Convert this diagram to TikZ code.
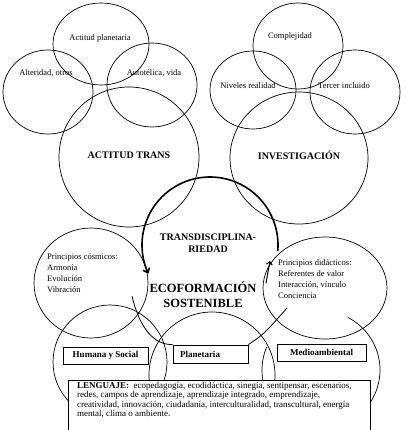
\documentclass[tikz,border=0pt]{standalone}
\usepackage{fontspec}
\setmainfont{Liberation Serif}
\usetikzlibrary{arrows.meta}
\begin{document}
\begin{tikzpicture}[x=1pt,y=-1pt,
  ring/.style={draw, line width=0.7pt},
  lbl/.style={font=\fontsize{8.5}{10}\selectfont, inner sep=0pt},
  big/.style={font=\bfseries\fontsize{10}{12}\selectfont, inner sep=0pt, align=center},
  eco/.style={font=\bfseries\fontsize{12.5}{15}\selectfont, inner sep=0pt, align=center},
  dim/.style={draw, line width=0.9pt, fill=white, font=\bfseries\fontsize{9}{10}\selectfont, inner sep=0pt},
  cyc/.style={line width=1.6pt},
  link/.style={line width=0.8pt},
]
\useasboundingbox (0,0) rectangle (405,430);
\fill[white] (0,0) rectangle (405,430);

% top-left cluster
\draw[ring] (101,44) ellipse [x radius=48, y radius=41];
\draw[ring] (48,92) ellipse [x radius=45, y radius=42];
\draw[ring] (152,85) ellipse [x radius=45, y radius=42];
\draw[ring] (129,157) circle [radius=70];
% top-right cluster
\draw[ring] (298,46) ellipse [x radius=45, y radius=43];
\draw[ring] (253,90) ellipse [x radius=43, y radius=39];
\draw[ring] (355,92) ellipse [x radius=45, y radius=42];
\draw[ring] (299,158) ellipse [x radius=69, y radius=66];
% middle side circles
\draw[ring] (91,283) ellipse [x radius=57, y radius=55];
\draw[ring] (325,288) ellipse [x radius=62, y radius=51];
% bottom circles
\draw[ring] (110,362) circle [radius=57];
\draw[ring] (212,375) circle [radius=63];
\draw[ring] plot[domain=297:563, samples=90, variable=\t] ({321+59*cos(\t)},{370+59*sin(\t)});

% cycle of the central circle
\draw[cyc, {Straight Barb[length=4pt,width=7pt]}-] plot[domain=155:365, samples=90, variable=\t] ({210+68*cos(\t)},{245+68*sin(\t)});
\coordinate (ra) at (266,283);
\coordinate (rb) at (270,261);
\draw[line width=1pt, -{Straight Barb[length=3pt,width=6pt]}] (ra) -- (rb);

% labels
\node[lbl] (apl) at (100,38) {Actitud planetaria};
\node[lbl] (alt) at (46,73) {Alteridad, otros};
\node[lbl] (aut) at (154,73) {Autotélica, vida};
\node[lbl] (com) at (290,36) {Complejidad};
\node[lbl] (niv) at (248,86) {Niveles realidad};
\node[lbl] (ter) at (344,86) {Tercer incluido};
\node[big] (act) at (129,155) {ACTITUD TRANS};
\node[big] (inv) at (299,155) {INVESTIGACIÓN};
\node[big] (tra) at (208,243) {TRANSDISCIPLINA-\\RIEDAD};
\node[eco] (eco) at (203,295) {ECOFORMACIÓN\\SOSTENIBLE};
\node[lbl, font=\fontsize{8.5}{11}\selectfont, align=left, anchor=north west] (cos) at (47,253)
  {Principios cósmicos:\\Armonía\\Evolución\\Vibración};
\node[lbl, font=\fontsize{8.5}{11}\selectfont, align=left, anchor=north west] (did) at (278,259)
  {Principios didácticos:\\Referentes de valor\\Interacción, vínculo\\Conciencia};

% boxes
\node[dim, minimum width=85, minimum height=17] (hum) at (105.5,355.5) {Humana y Social};
\node[dim, minimum height=18, inner xsep=7pt, text width=61, align=left] (pla) at (210.5,354) {Planetaria};
\node[dim, minimum width=89, minimum height=17] (med) at (321.5,352.5) {Medioambiental};

% links to Planetaria
\coordinate (ls) at (132,296);
\coordinate (re) at (287,308);
\draw[link] (ls) .. controls (140,330) and (155,345) .. (pla.north west);
\draw[link] (pla.north east) .. controls (264,334) .. (re);

% language box
\node[draw, fill=white, line width=0.9pt, anchor=north west, inner sep=0pt, minimum width=302, minimum height=54] (len) at (68,380) {};
\node[inner sep=0pt, anchor=north west, align=left, font=\fontsize{9}{9.4}\selectfont] (lentxt) at (77,382)
  {\textbf{LENGUAJE:}\ \ ecopedagogía, ecodidáctica, sinegia, sentipensar, escenarios,\\
   redes, campos de aprendizaje, aprendizaje integrado, emprendizaje,\\
   creatividad, innovación, ciudadanía, interculturalidad, transcultural, energía\\
   mental, clima o ambiente.};
\end{tikzpicture}
\end{document}
